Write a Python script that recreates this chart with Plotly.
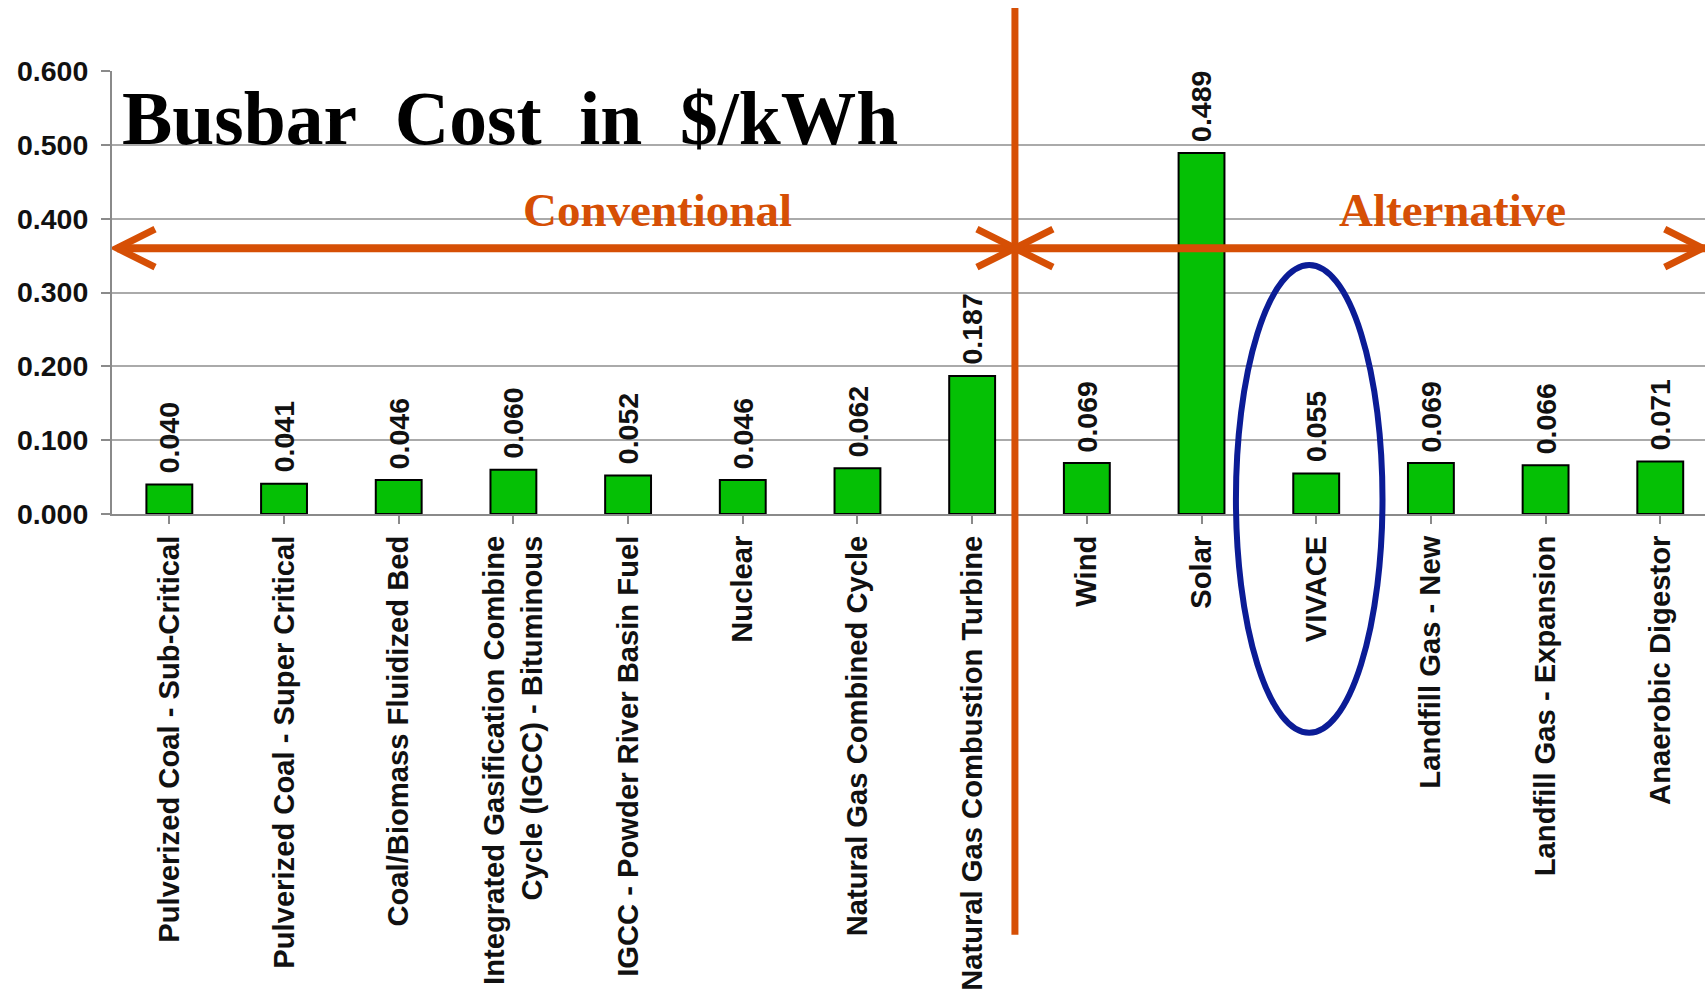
import plotly.graph_objects as go

categories = [
    "Pulverized Coal - Sub-Critical",
    "Pulverized Coal - Super Critical",
    "Coal/Biomass Fluidized Bed",
    "Integrated Gasification Combine<br>Cycle (IGCC) - Bituminous",
    "IGCC - Powder River Basin Fuel",
    "Nuclear",
    "Natural Gas Combined Cycle",
    "Natural Gas Combustion Turbine",
    "Wind",
    "Solar",
    "VIVACE",
    "Landfill Gas - New",
    "Landfill Gas - Expansion",
    "Anaerobic Digestor",
]
costs = [0.040, 0.041, 0.046, 0.060, 0.052, 0.046, 0.062, 0.187,
         0.069, 0.489, 0.055, 0.069, 0.066, 0.071]
value_labels = [f"{v:.3f}" for v in costs]
y_ticks = [0.0, 0.1, 0.2, 0.3, 0.4, 0.5, 0.6]
y_ticktext = [f"{v:.3f}" for v in y_ticks]

title_text = "Busbar\u00a0\u00a0Cost\u00a0\u00a0in\u00a0\u00a0$/kWh"
group_labels = ["Conventional", "Alternative"]

ORANGE = "#D64F05"
BLUE = "#0B1C96"
GREEN = "#05C005"
GRID = "#AAAAAA"
AXIS = "#8A8A8A"
SANS = "Arial, Liberation Sans, sans-serif"
SERIF = "Times New Roman, Liberation Serif, serif"

x_idx = list(range(len(categories)))

fig = go.Figure()
fig.add_trace(go.Bar(
    x=x_idx, y=costs,
    marker=dict(color=GREEN, line=dict(color="black", width=2)),
    width=0.4,
    hoverinfo="skip",
))

annotations = []
for i, (v, t) in enumerate(zip(costs, value_labels)):
    annotations.append(dict(
        x=i, y=v, xref="x", yref="y", text=t, showarrow=False,
        textangle=-90, yanchor="bottom", xanchor="center", yshift=9,
        font=dict(family=SANS, size=28.5, color="#111111", weight="bold"),
    ))

annotations.append(dict(
    x=0.005, y=0.893, xref="paper", yref="paper", text=title_text,
    showarrow=False, xanchor="left", yanchor="middle",
    font=dict(family=SERIF, size=75.5, color="black", weight="bold"),
))
annotations.append(dict(
    x=4.26, y=0.686, xref="x", yref="paper", text=group_labels[0],
    showarrow=False, xanchor="center", yanchor="middle",
    font=dict(family=SERIF, size=47, color=ORANGE, weight="bold"),
))
annotations.append(dict(
    x=11.19, y=0.686, xref="x", yref="paper", text=group_labels[1],
    showarrow=False, xanchor="center", yanchor="middle",
    font=dict(family=SERIF, size=47, color=ORANGE, weight="bold"),
))

X_END = 13.39
SPLIT = 7.373
ARROW_Y = 0.360
LW = 7

shapes = [
    # vertical divider
    dict(type="line", xref="x", yref="paper", x0=SPLIT, x1=SPLIT,
         y0=-0.950, y1=1.142, line=dict(color=ORANGE, width=LW), layer="above"),
    # horizontal arrow shaft
    dict(type="line", xref="x", yref="y", x0=-0.456, x1=X_END,
         y0=ARROW_Y, y1=ARROW_Y, line=dict(color=ORANGE, width=8), layer="above"),
]
# chevrons (pixel-sized, anchored in data coords)
for anchor, sign in [(-0.456, 1), (SPLIT, -1), (SPLIT, 1), (X_END - 0.02, -1)]:
    shapes.append(dict(
        type="path", xref="x", yref="y",
        xsizemode="pixel", ysizemode="pixel",
        xanchor=anchor, yanchor=ARROW_Y,
        path=f"M {sign*38} 19 L 0 0 L {sign*38} -19",
        line=dict(color=ORANGE, width=LW), layer="above",
    ))
# blue ellipse around VIVACE
shapes.append(dict(
    type="circle", xref="x", yref="paper",
    x0=9.30, x1=10.578, y0=-0.494, y1=0.562,
    line=dict(color=BLUE, width=6), layer="above",
))

fig.update_layout(
    width=1705, height=997, autosize=False,
    margin=dict(l=112, r=0, t=71, b=483, pad=0),
    plot_bgcolor="white", paper_bgcolor="white",
    showlegend=False,
    bargap=0.6,
    annotations=annotations,
    shapes=shapes,
    xaxis=dict(
        range=[-0.5, X_END], automargin=False,
        tickmode="array", tickvals=x_idx, ticktext=categories,
        tickangle=-90, tickson="boundaries",
        ticks="outside", ticklen=8, tickwidth=1.5, tickcolor=AXIS,
        showline=True, linecolor=AXIS, linewidth=2,
        showgrid=False, zeroline=False,
        tickfont=dict(family=SANS, size=29.2, color="#111111", weight="bold"),
        ticklabelstandoff=0,
    ),
    yaxis=dict(
        range=[0, 0.6], automargin=False,
        tickmode="array", tickvals=y_ticks, ticktext=y_ticktext,
        ticks="outside", ticklen=9, tickwidth=1.5, tickcolor=AXIS,
        showline=True, linecolor=AXIS, linewidth=2,
        showgrid=True, gridcolor=GRID, gridwidth=2,
        zeroline=False,
        tickfont=dict(family=SANS, size=28.5, color="#111111", weight="bold"),
        ticklabelstandoff=7,
    ),
)

fig.write_html("out.html")
